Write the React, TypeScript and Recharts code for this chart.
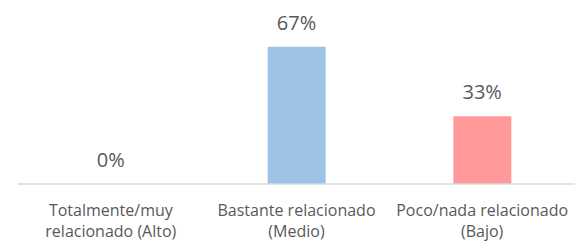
import React from 'react';
import { ComposedChart, Bar, Line, XAxis, YAxis, Cell, LabelList } from 'recharts';

const categories = ['Totalmente/muy\nrelacionado (Alto)', 'Bastante relacionado\n(Medio)', 'Poco/nada relacionado\n(Bajo)'];
const values = [0, 67, 33];
const colors = ['#4472C4', '#9DC3E6', '#FF9999'];

const data = categories.map((name, i) => ({ name, value: values[i] }));

const textColor = '#595959';
const font = '"Open Sans", sans-serif';

const CategoryTick = (props: any) => {
  const { x, y, payload } = props;
  const lines = String(payload.value).split('\n');
  return (
    <text x={x} y={y} textAnchor="middle" fill={textColor} fontFamily={font} fontSize={16}>
      {lines.map((line, i) => (
        <tspan key={i} x={x} y={y + 32 + i * 21}>
          {line}
        </tspan>
      ))}
    </text>
  );
};

export default function App() {
  return (
    <div style={{ position: 'absolute', left: 0, top: 0, background: '#fff' }}>
      <ComposedChart
        width={575}
        height={242}
        data={data}
        margin={{ top: 20, right: 0, bottom: 0, left: 18 }}
        barCategoryGap={0}
      >
        <XAxis
          dataKey="name"
          height={58}
          interval={0}
          tickLine={false}
          tickSize={0}
          tickMargin={0}
          axisLine={{ stroke: '#D9D9D9', strokeWidth: 1.5 }}
          tick={<CategoryTick />}
        />
        <YAxis hide domain={[0, 80]} />
        <Bar dataKey="value" barSize={58} isAnimationActive={false}>
          {data.map((entry, i) => (
            <Cell key={`cell-${i}`} fill={colors[i]} />
          ))}
        </Bar>
        {/* invisible line only carries the value labels, so the 0% one shows too */}
        <Line dataKey="value" stroke="none" dot={false} activeDot={false} isAnimationActive={false}>
          <LabelList
            dataKey="value"
            position="top"
            offset={17}
            formatter={(v: any) => `${v}%`}
            fill={textColor}
            fontFamily={font}
            fontSize={20}
          />
        </Line>
      </ComposedChart>
    </div>
  );
}
